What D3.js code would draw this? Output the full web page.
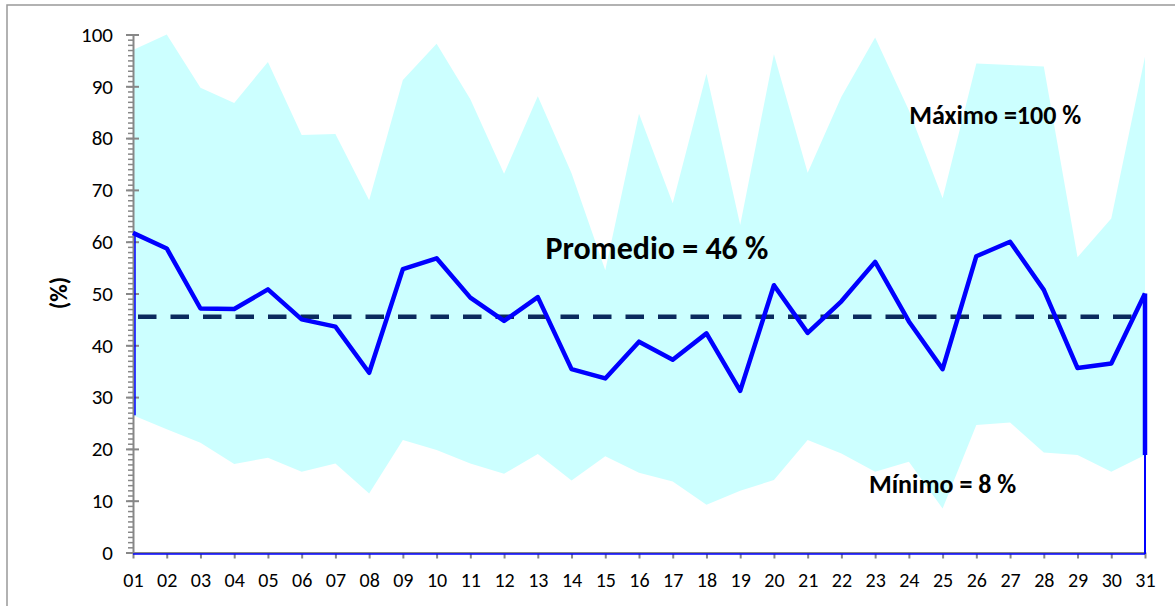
<!DOCTYPE html>
<html>
<head>
<meta charset="utf-8">
<script src="https://d3js.org/d3.v7.min.js"></script>
<style>
  body { margin: 0; background: #fff; }
  text { font-family: Carlito, Lato, sans-serif; }
</style>
</head>
<body>
<svg id="chart" width="1175" height="606"></svg>
<script>
// dias del mes
const days = d3.range(1, 32).map(d => d3.format("02")(d));

// maximo, minimo y promedio diario (%)
const maxVals = [97.0, 100, 89.7, 86.8, 94.7, 80.6, 80.8, 68.0, 91.2, 98.2,
                 87.5, 73.1, 88.1, 73.2, 54.5, 84.7, 67.4, 92.4, 63.2, 96.2,
                 73.3, 88.0, 99.4, 85.4, 68.4, 94.4, 94.1, 93.8, 57.0, 64.5, 95.7];
const minVals = [26.5, 23.8, 21.2, 17.1, 18.3, 15.6, 17.2, 11.4, 21.7, 19.8,
                 17.2, 15.2, 19.0, 13.9, 18.6, 15.4, 13.7, 9.2, 11.9, 14.0,
                 21.7, 19.1, 15.6, 17.5, 8.5, 24.6, 25.1, 19.3, 18.8, 15.6, 18.8];
const avgVals = [61.7, 58.7, 47.1, 47.0, 50.8, 45.0, 43.6, 34.7, 54.7, 56.8,
                 49.2, 44.7, 49.3, 35.4, 33.6, 40.7, 37.2, 42.3, 31.2, 51.6,
                 42.4, 48.5, 56.1, 44.6, 35.4, 57.2, 60.0, 50.7, 35.6, 36.5, 50.0];
const meanAll = 45.5;

const yTicks = d3.range(0, 101, 10);
const yMinorTicks = d3.range(0, 101, 1);
const yLabel = "(%)";
// anotaciones: dia (centro del texto) y valor (linea base)
const notes = [
  {text: "Promedio = 46 %", day: 16.53, v: 56.6, size: 32},
  {text: "Máximo =100 %",   day: 26.56, v: 82.7, size: 26},
  {text: "Mínimo = 8 %",    day: 25.0,  v: 11.5, size: 26}
];

const svg = d3.select("#chart");
const gray = "#878787";

const x = d3.scalePoint().domain(days).range([133, 1145]);
const xNum = d3.scaleLinear().domain([1, 31]).range([133, 1145]);
const y = d3.scaleLinear().domain([0, 100]).range([552.5, 34.5]);

const rows = days.map((d, i) => ({day: d, max: maxVals[i], min: minVals[i], avg: avgVals[i]}));

// marco
svg.append("rect")
  .attr("x", 7).attr("y", 5)
  .attr("width", 1200).attr("height", 700)
  .attr("fill", "white")
  .attr("stroke", "#999")
  .attr("stroke-width", 1.5);

// rango min-max
const area = d3.area()
  .x(d => x(d.day))
  .y0(d => y(d.min))
  .y1(d => y(d.max));

svg.append("path")
  .datum(rows)
  .attr("d", area)
  .attr("fill", "#ccffff");

// eje Y
const yMinor = svg.append("g")
  .attr("transform", "translate(133,0)")
  .call(d3.axisLeft(y).tickValues(yMinorTicks).tickSize(5).tickFormat(""));
yMinor.select(".domain").remove();
yMinor.selectAll("line").attr("stroke", gray).attr("stroke-width", 1.5);

const yAxis = svg.append("g")
  .attr("transform", "translate(133,0)")
  .call(d3.axisLeft(y).tickValues(yTicks).tickSize(7).tickPadding(13).tickSizeOuter(0));
yAxis.select(".domain").attr("stroke", gray).attr("stroke-width", 2);
yAxis.selectAll(".tick line").attr("stroke", gray).attr("stroke-width", 2).attr("x1", 6);
yAxis.selectAll(".tick line").filter(d => d === 0).attr("x1", 0);
yAxis.selectAll("text")
  .attr("fill", "#000")
  .style("font-size", "21px");

// eje X
const xAxis = svg.append("g")
  .attr("transform", "translate(0," + y(0) + ")")
  .call(d3.axisBottom(x).tickSize(6).tickSizeOuter(0));
xAxis.select(".domain").attr("stroke", gray).attr("stroke-width", 2);
xAxis.selectAll(".tick line").attr("stroke", gray).attr("stroke-width", 2);
xAxis.selectAll("text")
  .attr("fill", "#000")
  .attr("y", 34.5)
  .attr("dy", 0)
  .style("font-size", "20px");

// bordes azules de la serie
const first = rows[0], last = rows[rows.length - 1];
const edge = d3.line().x(d => d[0]).y(d => d[1]);
svg.append("path")
  .attr("d", edge([[x(first.day) + 2, y(first.min)], [x(first.day) + 2, y(first.avg)]]))
  .attr("stroke", "#0000ff").attr("stroke-width", 1.5).attr("fill", "none");
svg.append("path")
  .attr("d", edge([[x(first.day), y(0) + 1.5], [x(last.day), y(0) + 1.5]]))
  .attr("stroke", "#0000ff").attr("stroke-width", 1.5).attr("fill", "none");
svg.append("path")
  .attr("d", edge([[x(last.day), y(last.min)], [x(last.day), y(0) + 1.5]]))
  .attr("stroke", "#0000ff").attr("stroke-width", 2).attr("fill", "none");

// promedio general
svg.append("line")
  .attr("x1", x(days[0]) + 5).attr("x2", x(days[days.length - 1]))
  .attr("y1", y(meanAll)).attr("y2", y(meanAll))
  .attr("stroke", "#0a2a5e")
  .attr("stroke-width", 4.5)
  .attr("stroke-dasharray", "18.5,14");

// promedio diario
const line = d3.line()
  .x(d => x(d.day))
  .y(d => y(d.avg));

svg.append("path")
  .datum(rows)
  .attr("d", line)
  .attr("fill", "none")
  .attr("stroke", "#0000ff")
  .attr("stroke-width", 4.5)
  .attr("stroke-linejoin", "round");

svg.append("path")
  .attr("d", edge([[x(last.day), y(last.avg)], [x(last.day), y(last.min)]]))
  .attr("stroke", "#0000ff").attr("stroke-width", 4.5).attr("fill", "none");

// titulo eje Y
svg.append("text")
  .attr("transform", "translate(67,293) rotate(-90)")
  .attr("text-anchor", "middle")
  .style("font-size", "24px")
  .style("font-weight", "bold")
  .text(yLabel);

// anotaciones
svg.selectAll(".note")
  .data(notes)
  .enter().append("text")
    .attr("class", "note")
    .attr("x", d => xNum(d.day))
    .attr("y", d => y(d.v))
    .attr("text-anchor", "middle")
    .style("font-size", d => d.size + "px")
    .style("font-weight", "bold")
    .text(d => d.text);
</script>
</body>
</html>
